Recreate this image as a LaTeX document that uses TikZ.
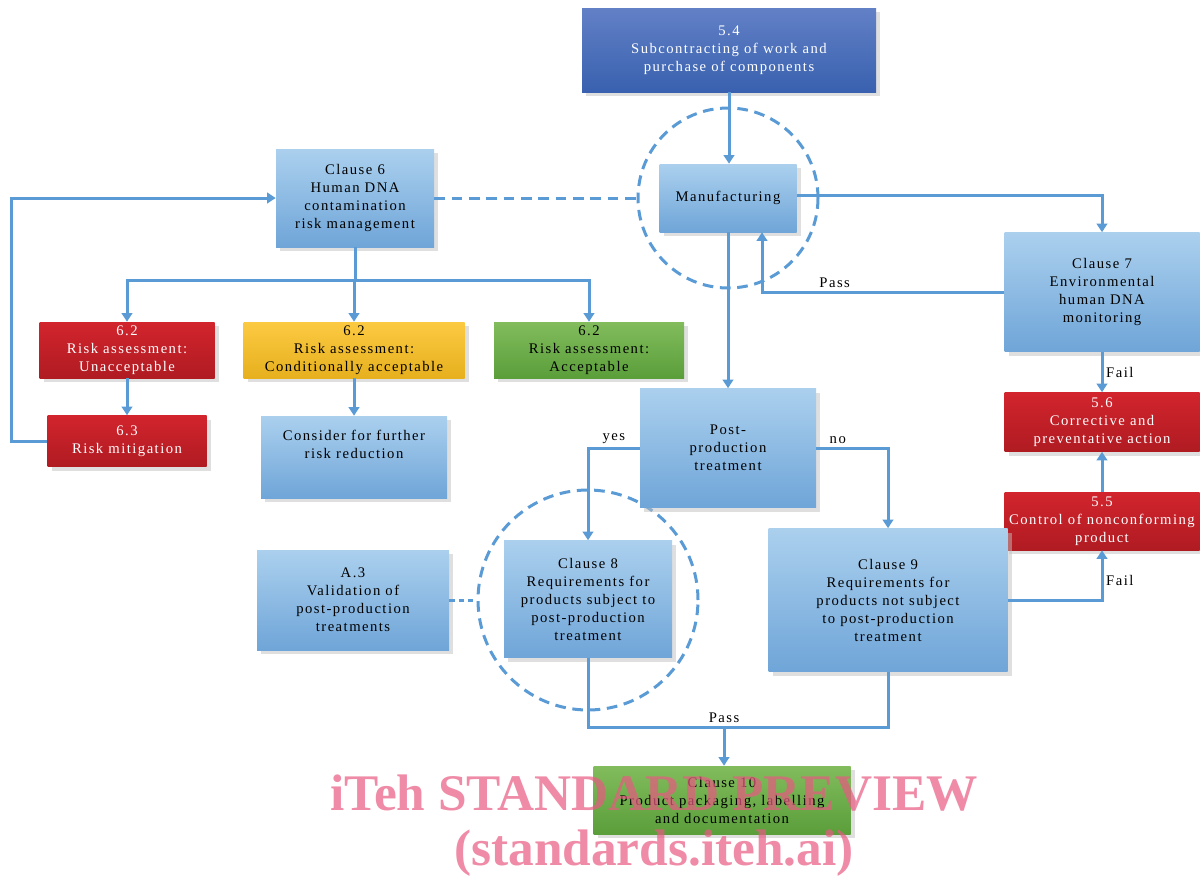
\documentclass[tikz,border=0pt]{standalone}
\usepackage{fontspec}
\setmainfont{Liberation Serif}[LetterSpace=10]
\newfontfamily\wmfont{Liberation Serif}
\usetikzlibrary{arrows.meta,shadows}

\definecolor{lbtop}{RGB}{171,208,238}
\definecolor{lbbot}{RGB}{111,165,216}
\definecolor{dbtop}{RGB}{98,128,198}
\definecolor{dbbot}{RGB}{57,97,175}
\definecolor{rdtop}{RGB}{210,36,45}
\definecolor{rdbot}{RGB}{176,27,34}
\definecolor{yltop}{RGB}{252,202,66}
\definecolor{ylbot}{RGB}{230,176,30}
\definecolor{grtop}{RGB}{130,188,92}
\definecolor{grbot}{RGB}{90,158,58}
\definecolor{flow}{RGB}{91,155,213}
\definecolor{wmpink}{RGB}{232,90,130}

\tikzset{sz/.style 2 args = {minimum width=#1*0.75pt, minimum height=#2*0.75pt}}

\begin{document}
\begin{tikzpicture}[x=0.75pt,y=-0.75pt]
        \tikzset{box/.style = {rectangle, align=center, inner sep=1pt,
            font=\fontsize{11}{13.5}\selectfont,
            top color=lbtop, bottom color=lbbot,
            drop shadow={shadow xshift=3pt, shadow yshift=-3pt, fill=black!25, opacity=0.5}}}
        \tikzset{darkbox/.style = {box, top color=dbtop, bottom color=dbbot, text=white}}
        \tikzset{redbox/.style = {box, top color=rdtop, bottom color=rdbot, text=white}}
        \tikzset{yelbox/.style = {box, top color=yltop, bottom color=ylbot}}
        \tikzset{grnbox/.style = {box, top color=grtop, bottom color=grbot}}
        \tikzset{ring/.style = {shape=circle, draw=flow, line width=2.25pt, dash pattern=on 8pt off 5pt, inner sep=0pt}}
        \tikzset{link/.style = {draw=flow, line width=2.25pt}}
        \tikzset{edge/.style = {link, ->, > = {Triangle[width=8pt, length=6.5pt]}}}
        \tikzset{lbl/.style = {font=\fontsize{11}{13}\selectfont, inner sep=2pt}}

        \useasboundingbox (0,0) rectangle (1200,879);

        % rings
        \node[ring, minimum size=180*0.75pt] (ring1) at (728,198) {};
        \node[ring, minimum size=220*0.75pt] (ring2) at (588,600) {};

        % boxes
        \node[darkbox, sz={294}{84}] (sub) at (729,50) {5.4\\Subcontracting of work and\\purchase of components};
        \node[box, sz={137}{68}] (manu) at (728,198) {Manufacturing};
        \node[box, sz={158}{98}] (cl6) at (355,198) {Clause 6\\Human DNA\\contamination\\risk management};
        \node[redbox, sz={175}{56}] (ra1) at (127,350) {6.2\\Risk assessment:\\Unacceptable};
        \node[yelbox, sz={221}{56}] (ra2) at (354,350) {6.2\\Risk assessment:\\Conditionally acceptable};
        \node[grnbox, sz={190}{56}] (ra3) at (589,350) {6.2\\Risk assessment:\\Acceptable};
        \node[redbox, sz={159}{51}] (mit) at (127,441) {6.3\\Risk mitigation};
        \node[box, sz={186}{82}] (cons) at (354,457) {Consider for further\\risk reduction\\[5pt]};
        \node[box, sz={195}{119}] (cl7) at (1102,292) {Clause 7\\Environmental\\human DNA\\monitoring};
        \node[redbox, sz={195}{59}] (ca) at (1102,422) {5.6\\Corrective and\\preventative action};
        \node[redbox, sz={195}{58}] (nc) at (1102,521) {5.5\\Control of nonconforming\\product};
        \node[box, sz={176}{119}] (ppt) at (728,448) {Post-\\production\\treatment};
        \node[box, sz={168}{117}] (cl8) at (588,599) {Clause 8\\Requirements for\\products subject to\\post-production\\treatment};
        \node[box, sz={239}{143}] (cl9) at (888,600) {Clause 9\\Requirements for\\products not subject\\to post-production\\treatment};
        \node[box, sz={192}{100}] (a3) at (353,600) {A.3\\Validation of\\post-production\\treatments};
        \node[grnbox, sz={257}{68}] (cl10) at (722,800) {Clause 10\\Product packaging, labelling\\and documentation};

        \coordinate (join) at (724,727);

        % edges
        \draw[edge] (sub.south) -- (sub.south |- manu.north);
        \draw[link, dash pattern=on 8pt off 5pt] (cl6.east) -- (ring1.west);
        \foreach \n in {ra1,ra2,ra3}
            \draw[edge] (cl6.south) -- ++(0,33) -| (\n.north);
        \draw[edge] (ra1) -- (mit);
        \draw[edge] (ra2) -- (cons);
        \draw[edge] (mit.west) -- ++(-36,0) |- (cl6.west);

        \draw[edge] ([yshift=2pt]manu.east) -| (cl7.north);
        \draw[edge] (cl7.west) -| node[lbl, above, pos=0.35] {Pass} ([xshift=25.5pt]manu.south);
        \draw[edge] (cl7.south) -- node[lbl, right] {Fail} (ca.north);
        \draw[edge] (nc.north) -- (ca.south);
        \draw[edge] (cl9.east) -| node[lbl, right, pos=0.7] {Fail} (nc.south);

        \draw[edge] (manu.south) -- (ppt.north);
        \draw[edge] (ppt.west) -| node[lbl, above, pos=0.25] {yes} (cl8.north);
        \draw[edge] (ppt.east) -| node[lbl, above, pos=0.15] {no} (cl9.north);
        \draw[link, dash pattern=on 4pt off 3pt] (a3.east) -- (ring2.west);

        \draw[link] (cl8.south) |- (join) -| (cl9.south);
        \draw[edge] (join) node[lbl, above] {Pass} -- (join |- cl10.north);

        % watermark
        \node[text=wmpink, opacity=0.7, font=\wmfont\bfseries\fontsize{38.5}{40}\selectfont] (wm1) at (654,793) {iTeh STANDARD PREVIEW};
        \node[text=wmpink, opacity=0.7, font=\wmfont\bfseries\fontsize{38.5}{40}\selectfont] (wm2) at (654,853) {(standards.iteh.ai)};

    \end{tikzpicture}
\end{document}
